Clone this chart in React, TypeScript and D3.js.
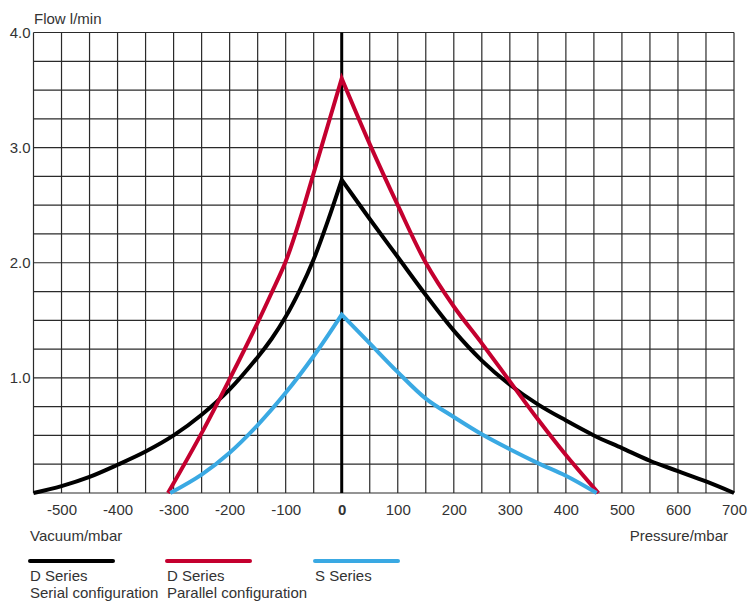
import React, { useRef, useEffect } from "react";
import * as d3 from "d3";

// pressure (mbar) / flow (l/min), left half and right half of each curve
const serialLeftP = [-550, -500, -450, -400, -350, -300, -250, -200, -150, -125, -100, -75, -50, -25, 0];
const serialLeftQ = [0, 0.06, 0.14, 0.245, 0.36, 0.5, 0.68, 0.9, 1.18, 1.34, 1.53, 1.76, 2.03, 2.36, 2.72];
const serialRightP = [0, 50, 100, 150, 200, 250, 300, 350, 400, 450, 500, 550, 600, 650, 700];
const serialRightQ = [2.72, 2.38, 2.05, 1.72, 1.41, 1.15, 0.94, 0.77, 0.63, 0.5, 0.39, 0.28, 0.19, 0.1, 0];

const parallelLeftP = [-310, -250, -200, -150, -125, -100, -75, -50, -25, 0];
const parallelLeftQ = [0, 0.52, 0.99, 1.48, 1.74, 2.01, 2.37, 2.78, 3.19, 3.6];
const parallelRightP = [0, 50, 100, 150, 200, 250, 300, 350, 400, 458];
const parallelRightQ = [3.6, 3.03, 2.5, 2.0, 1.62, 1.3, 0.97, 0.64, 0.33, 0];

const sLeftP = [-306, -250, -200, -150, -100, -50, 0];
const sLeftQ = [0, 0.16, 0.35, 0.59, 0.87, 1.19, 1.55];
const sRightP = [0, 50, 100, 150, 200, 250, 300, 350, 400, 455];
const sRightQ = [1.55, 1.3, 1.05, 0.82, 0.66, 0.51, 0.38, 0.26, 0.15, 0];

const xTicks = [-500, -400, -300, -200, -100, 0, 100, 200, 300, 400, 500, 600, 700];
const yTicks = [1, 2, 3, 4];

const series = [
    { name: "D Series", sub: "Serial configuration", color: "#000000", lp: serialLeftP, lq: serialLeftQ, rp: serialRightP, rq: serialRightQ, lx: 30 },
    { name: "D Series", sub: "Parallel configuration", color: "#c4002f", lp: parallelLeftP, lq: parallelLeftQ, rp: parallelRightP, rq: parallelRightQ, lx: 167 },
    { name: "S Series", sub: "", color: "#3aa9e3", lp: sLeftP, lq: sLeftQ, rp: sRightP, rq: sRightQ, lx: 315 },
];

const font = "'Liberation Sans', Arial, sans-serif";
const textColor = "#333";

const App = () => {
    const svgRef = useRef<SVGSVGElement>(null);

    useEffect(() => {
        const svg = d3.select(svgRef.current);
        svg.selectAll("*").remove();

        const x = d3.scaleLinear().domain([-550, 700]).range([33.5, 734]);
        const y = d3.scaleLinear().domain([0, 4]).range([493, 32.5]);

        // grid
        const grid = svg.append("g").attr("stroke", "#2a2a2a").attr("stroke-width", 1.2);
        grid.selectAll("line.v")
            .data(d3.range(-550, 701, 50))
            .enter()
            .append("line")
            .attr("x1", (d) => x(d))
            .attr("x2", (d) => x(d))
            .attr("y1", y(0))
            .attr("y2", y(4));
        grid.selectAll("line.h")
            .data(d3.range(0, 4.01, 0.25))
            .enter()
            .append("line")
            .attr("x1", x(-550))
            .attr("x2", x(700))
            .attr("y1", (d) => y(d))
            .attr("y2", (d) => y(d));

        // zero line
        svg.append("line")
            .attr("x1", x(0)).attr("x2", x(0))
            .attr("y1", y(0)).attr("y2", y(4))
            .attr("stroke", "#000").attr("stroke-width", 3);

        // axes (labels only)
        const xAxis = d3.axisBottom(x).tickValues(xTicks).tickSize(0).tickPadding(11).tickFormat((d) => String(d));
        const gx = svg.append("g").attr("transform", `translate(0, ${y(0)})`).call(xAxis);
        gx.select(".domain").remove();
        gx.selectAll("text")
            .attr("fill", textColor)
            .style("font-family", font)
            .style("font-size", "15px")
            .style("font-weight", (d) => (d === 0 ? "700" : "400"));

        const yAxis = d3.axisLeft(y).tickValues(yTicks).tickSize(0).tickPadding(3).tickFormat(d3.format(".1f"));
        const gy = svg.append("g").attr("transform", `translate(${x(-550)}, 0)`).call(yAxis);
        gy.select(".domain").remove();
        gy.selectAll("text")
            .attr("fill", textColor)
            .style("font-family", font)
            .style("font-size", "15px");

        // curves
        const line = d3.line<[number, number]>()
            .x((d) => x(d[0]))
            .y((d) => y(d[1]))
            .curve(d3.curveCatmullRom.alpha(0.5));

        series.forEach((s) => {
            const left = s.lp.map((p, i) => [p, s.lq[i]] as [number, number]);
            const right = s.rp.map((p, i) => [p, s.rq[i]] as [number, number]);
            const path = line(left) + line(right).replace(/^M/, "L");
            svg.append("path")
                .attr("d", path)
                .attr("fill", "none")
                .attr("stroke", s.color)
                .attr("stroke-width", 4)
                .attr("stroke-linejoin", "miter");
        });

        // axis titles
        const txt = (t: string, tx: number, ty: number, anchor = "start") =>
            svg.append("text")
                .attr("x", tx).attr("y", ty)
                .attr("text-anchor", anchor)
                .attr("fill", textColor)
                .style("font-family", font)
                .style("font-size", "15px")
                .text(t);

        txt("Flow l/min", 34, 24);
        txt("Vacuum/mbar", 30, 541);
        txt("Pressure/mbar", 728, 541, "end");

        // legend
        series.forEach((s) => {
            svg.append("line")
                .attr("x1", s.lx).attr("x2", s.lx + 83)
                .attr("y1", 561).attr("y2", 561)
                .attr("stroke", s.color)
                .attr("stroke-width", 4)
                .attr("stroke-linecap", "round");
            txt(s.name, s.lx, 581);
            if (s.sub) txt(s.sub, s.lx, 598);
        });
    }, []);

    return (
        <div style={{ position: "absolute", left: 0, top: 0 }}>
            <svg ref={svgRef} width={749} height={602} style={{ display: "block" }}></svg>
        </div>
    );
};

export default App;
